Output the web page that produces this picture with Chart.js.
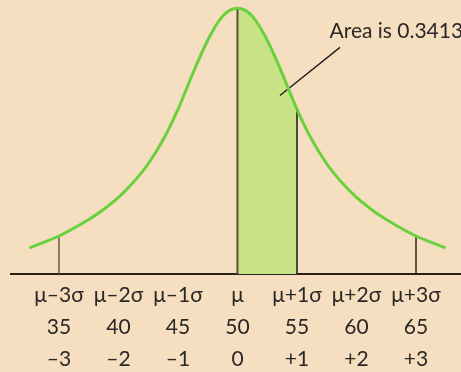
<!DOCTYPE html>
<html lang="en">
<head>
<meta charset="UTF-8">
<title>Normal curve - area between mu and mu+1 sigma</title>
<script src="https://cdn.jsdelivr.net/npm/chart.js"></script>
<style>
  html, body { margin: 0; padding: 0; background: #f6dfc0; }
  #wrap { width: 461px; height: 372px; }
</style>
</head>
<body>
<div id="wrap"><canvas id="chart"></canvas></div>
<script>
// curve: x in raw score units, y as a share of the peak height
const curveX = [32.5, 33.75, 35, 36.25, 37.5, 38.75, 40, 41.25, 42.5, 43.75, 45, 46.25, 47.5, 48.75,
                50, 51.25, 52.5, 53.75, 55, 56.25, 57.5, 58.75, 60, 61.25, 62.5, 63.75, 65, 66.25, 67.5];
const curveY = [0.098, 0.12, 0.143, 0.172, 0.205, 0.243, 0.288, 0.345, 0.415, 0.505, 0.62, 0.755, 0.88, 0.97,
                1.0, 0.97, 0.88, 0.755, 0.62, 0.505, 0.415, 0.345, 0.288, 0.243, 0.205, 0.172, 0.143, 0.12, 0.098];

// tick rows
const tickValues  = [35, 40, 45, 50, 55, 60, 65];
const sigmaLabels = ['μ–3σ', 'μ–2σ', 'μ–1σ', 'μ', 'μ+1σ', 'μ+2σ', 'μ+3σ'];
const zLabels     = ['–3', '–2', '–1', '0', '+1', '+2', '+3'];

// vertical drop lines (x, height on the curve)
const markerX = [35, 50, 55, 65];
const markerY = [0.143, 1.0, 0.62, 0.143];
const markerColors = ['#6e5c48', '#5b4c3d', '#1e1a16', '#2e261e'];

// shaded band
const shadeFrom = 50;
const shadeTo = 55;

// annotation
const areaText = 'Area is 0.3413';
const pointerX = [53.57, 58.61];
const pointerY = [0.672, 0.853];
const textAt = {x: 57.73, y: 0.89};

const FONT = "Lato, 'Noto Sans', sans-serif";
const GREEN = '#68d13c';
const SHADE = '#c8e486';

const datasets = [{
    data: curveX.map((x, i) => ({x: x, y: curveY[i]})),
    borderColor: GREEN,
    borderWidth: 3,
    pointRadius: 0,
    cubicInterpolationMode: 'monotone',
    fill: 'origin',
    backgroundColor: 'rgba(0,0,0,0)',
    segment: {
        backgroundColor: ctx => (ctx.p0.parsed.x >= shadeFrom && ctx.p1.parsed.x <= shadeTo) ? SHADE : 'rgba(0,0,0,0)'
    }
}];

for (let i = 0; i < markerX.length; i++) {
    datasets.push({
        data: [{x: markerX[i], y: 0}, {x: markerX[i], y: markerY[i]}],
        borderColor: markerColors[i],
        borderWidth: i === 1 ? 2 : 1.5,
        pointRadius: 0,
        fill: false
    });
}

datasets.push({
    data: [{x: pointerX[0], y: pointerY[0]}, {x: pointerX[1], y: pointerY[1]}],
    borderColor: '#1b1b1b',
    borderWidth: 1.3,
    pointRadius: 0,
    fill: false
});

// draws the annotation text at a data position
const areaLabel = {
    id: 'areaLabel',
    afterDraw(chart) {
        const c = chart.ctx;
        c.save();
        c.font = '21px ' + FONT;
        c.fillStyle = '#2b2724';
        c.textAlign = 'left';
        c.textBaseline = 'alphabetic';
        c.fillText(areaText, chart.scales.x.getPixelForValue(textAt.x), chart.scales.y.getPixelForValue(textAt.y));
        c.restore();
    }
};

new Chart(document.getElementById('chart'), {
    type: 'line',
    data: {datasets: datasets},
    plugins: [areaLabel],
    options: {
        responsive: true,
        maintainAspectRatio: false,
        animation: false,
        layout: {padding: {left: 11, right: 0, top: 3, bottom: -8}},
        plugins: {
            legend: {display: false},
            tooltip: {enabled: false},
            filler: {drawTime: 'beforeDatasetsDraw'}
        },
        scales: {
            x: {
                type: 'linear',
                min: 30.97,
                max: 68.78,
                afterBuildTicks: scale => { scale.ticks = tickValues.map(v => ({value: v})); },
                grid: {display: false, drawTicks: false},
                border: {display: true, color: '#2a2018', width: 2},
                ticks: {
                    autoSkip: false,
                    maxRotation: 0,
                    padding: 5,
                    color: '#2b2724',
                    font: {family: FONT, size: 21, lineHeight: 32 / 21},
                    callback: value => {
                        const i = tickValues.indexOf(value);
                        return [sigmaLabels[i], String(value), zLabels[i]];
                    }
                }
            },
            y: {
                display: false,
                min: 0,
                max: 1.02
            }
        }
    }
});
</script>
</body>
</html>
